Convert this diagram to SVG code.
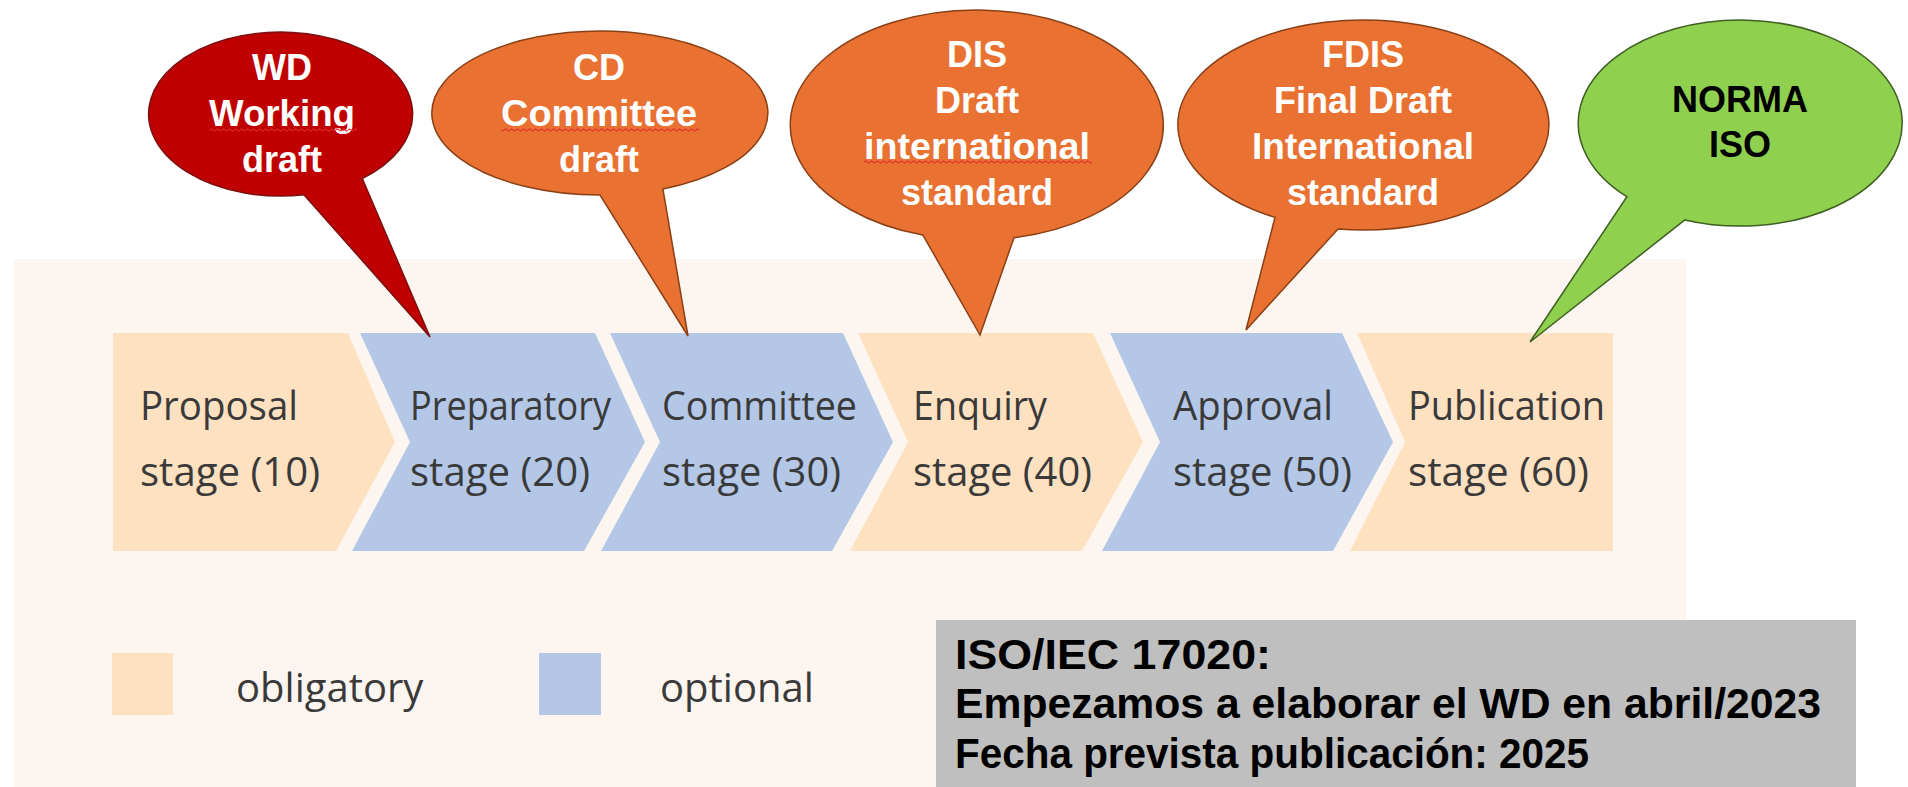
<svg xmlns="http://www.w3.org/2000/svg" width="1908" height="787" viewBox="0 0 1908 787">
<defs>
<style>
.bg{fill:#ffffff}
.panel{fill:#fdf6f0}
.obl{fill:#fde1c1}
.opt{fill:#b4c7e7}
.stg{font-family:"Open Sans","Noto Sans","Liberation Sans",sans-serif;font-size:40px;fill:#3a3a3a}
.bal{font-family:"Liberation Sans",Arial,sans-serif;font-size:36px;font-weight:bold;fill:#ffffff;text-anchor:middle}
.balk{fill:#000000}
.note{font-family:"Liberation Sans",Arial,sans-serif;font-size:42px;font-weight:bold;fill:#000000}
.red{fill:#c00000;stroke:#7a1010;stroke-width:1.5}
.orange{fill:#e97132;stroke:#8a4016;stroke-width:1.5}
.green{fill:#8fd14f;stroke:#3e5e22;stroke-width:1.5}
</style>
<pattern id="wave" x="0" y="0" width="6" height="4" patternUnits="userSpaceOnUse">
<path d="M0,2 Q1.5,0.3 3,2 T6,2" fill="none" stroke="#e02a2a" stroke-width="1.1"/>
</pattern>
</defs>
<rect class="bg" x="0" y="0" width="1908" height="787"/>
<rect id="panel" class="panel" x="14" y="259" width="1672" height="528"/>

<g id="stages">
<g id="stage-proposal">
<polygon class="obl" points="113,333 348,333 395,442 336,551 113,551"/>
<text class="stg" x="140" y="420" textLength="158" lengthAdjust="spacingAndGlyphs">Proposal</text>
<text class="stg" x="140" y="486" textLength="180" lengthAdjust="spacingAndGlyphs">stage (10)</text>
</g>
<g id="stage-preparatory">
<polygon class="opt" points="360,333 595,333 645,442 584,551 352,551 410,442"/>
<text class="stg" x="410" y="420" textLength="201" lengthAdjust="spacingAndGlyphs">Preparatory</text>
<text class="stg" x="410" y="486" textLength="180" lengthAdjust="spacingAndGlyphs">stage (20)</text>
</g>
<g id="stage-committee">
<polygon class="opt" points="610,333 843,333 893,442 832,551 601,551 660,442"/>
<text class="stg" x="662" y="420" textLength="195" lengthAdjust="spacingAndGlyphs">Committee</text>
<text class="stg" x="662" y="486" textLength="179" lengthAdjust="spacingAndGlyphs">stage (30)</text>
</g>
<g id="stage-enquiry">
<polygon class="obl" points="858,333 1093,333 1143,442 1082,551 850,551 908,442"/>
<text class="stg" x="913" y="420" textLength="134" lengthAdjust="spacingAndGlyphs">Enquiry</text>
<text class="stg" x="913" y="486" textLength="179" lengthAdjust="spacingAndGlyphs">stage (40)</text>
</g>
<g id="stage-approval">
<polygon class="opt" points="1110,333 1342,333 1393,442 1333,551 1102,551 1160,442"/>
<text class="stg" x="1173" y="420" textLength="160" lengthAdjust="spacingAndGlyphs">Approval</text>
<text class="stg" x="1173" y="486" textLength="179" lengthAdjust="spacingAndGlyphs">stage (50)</text>
</g>
<g id="stage-publication">
<polygon class="obl" points="1357,333 1613,333 1613,551 1350,551 1405,442"/>
<text class="stg" x="1408" y="420" textLength="197" lengthAdjust="spacingAndGlyphs">Publication</text>
<text class="stg" x="1408" y="486" textLength="181" lengthAdjust="spacingAndGlyphs">stage (60)</text>
</g>
</g>

<g id="legend">
<g id="legend-obligatory">
<rect class="obl" x="112" y="653" width="61" height="62"/>
<text class="stg" x="236" y="702">obligatory</text>
</g>
<g id="legend-optional">
<rect class="opt" x="539" y="653" width="62" height="62"/>
<text class="stg" x="660" y="702">optional</text>
</g>
</g>

<g id="note">
<rect x="936" y="620" width="920" height="167" fill="#bfbfbf"/>
<text class="note" x="955" y="669" textLength="316" lengthAdjust="spacingAndGlyphs">ISO/IEC 17020:</text>
<text class="note" x="955" y="718" textLength="866" lengthAdjust="spacingAndGlyphs">Empezamos a elaborar el WD en abril/2023</text>
<text class="note" x="955" y="768" textLength="634" lengthAdjust="spacingAndGlyphs">Fecha prevista publicación: 2025</text>
</g>

<g id="callouts">
<g id="callout-wd">
<path class="red" d="M430,337 L303.9,194.8 A132,82 0 1 1 362.3,178.5 Z"/>
<text class="bal" x="282" y="80">WD</text>
<text class="bal" x="282" y="126" textLength="146" lengthAdjust="spacingAndGlyphs">Working</text>
<rect x="209" y="128" width="148" height="4" fill="url(#wave)"/>
<text class="bal" x="282" y="172">draft</text>
</g>
<g id="callout-cd">
<path class="orange" d="M688,336 L600,195 A168,82 0 1 1 662.9,189 Z"/>
<text class="bal" x="599" y="80">CD</text>
<text class="bal" x="599" y="126" textLength="196" lengthAdjust="spacingAndGlyphs">Committee</text>
<rect x="501" y="128" width="198" height="4" fill="url(#wave)"/>
<text class="bal" x="599" y="172">draft</text>
</g>
<g id="callout-dis">
<path class="orange" d="M980,335 L922.9,235.1 A186.5,115 0 1 1 1014,237.7 Z"/>
<text class="bal" x="977" y="67">DIS</text>
<text class="bal" x="977" y="113">Draft</text>
<text class="bal" x="977" y="159" textLength="226" lengthAdjust="spacingAndGlyphs">international</text>
<rect x="864" y="160" width="228" height="4" fill="url(#wave)"/>
<text class="bal" x="977" y="205">standard</text>
</g>
<g id="callout-fdis">
<path class="orange" d="M1246,330 L1275,217.3 A185.5,105 0 1 1 1338,229 Z"/>
<text class="bal" x="1363" y="67">FDIS</text>
<text class="bal" x="1363" y="113">Final Draft</text>
<text class="bal" x="1363" y="159" textLength="222" lengthAdjust="spacingAndGlyphs">International</text>
<text class="bal" x="1363" y="205">standard</text>
</g>
<g id="callout-norma">
<path class="green" d="M1530,342 L1626.9,196.7 A162,103 0 1 1 1684.9,219.9 Z"/>
<text class="bal balk" x="1740" y="112">NORMA</text>
<text class="bal balk" x="1740" y="157">ISO</text>
</g>
</g>
</svg>
